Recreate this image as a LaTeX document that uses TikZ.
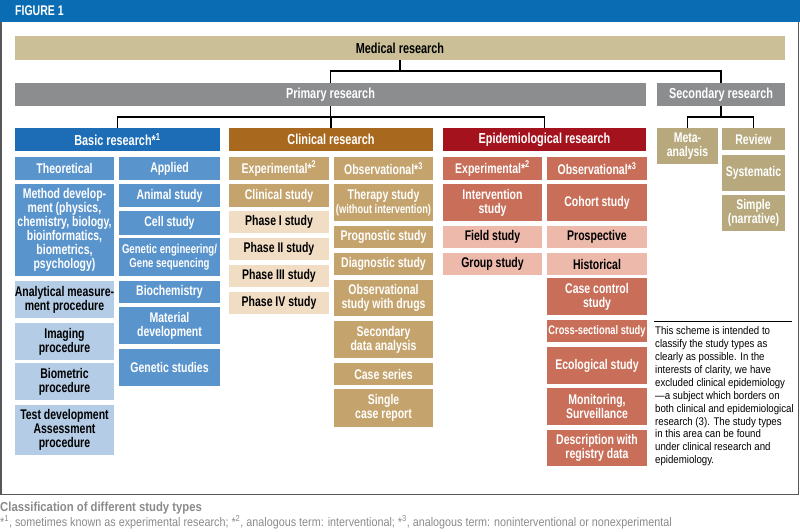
\documentclass[tikz,border=0pt]{standalone}
\usepackage{fontspec}
\setmainfont{Liberation Sans}[FakeStretch=0.75]
\newfontfamily\capfont{Liberation Sans}[FakeStretch=0.87]
\definecolor{cHead}{HTML}{0A6DB3}
\definecolor{cMed}{HTML}{CBBF98}
\definecolor{cGray}{HTML}{8B8D8F}
\definecolor{cBlueD}{HTML}{1C6DB5}
\definecolor{cBlueM}{HTML}{5A94CC}
\definecolor{cBlueL}{HTML}{B4CCE6}
\definecolor{cBrownD}{HTML}{A8691F}
\definecolor{cBrownM}{HTML}{C4A36D}
\definecolor{cBrownL}{HTML}{F0DDC4}
\definecolor{cRedD}{HTML}{A4131D}
\definecolor{cRedM}{HTML}{C86E59}
\definecolor{cRedL}{HTML}{ECB9AB}
\definecolor{cSec}{HTML}{B7A97D}
\definecolor{cFrame}{HTML}{58585A}
\definecolor{cCap}{HTML}{8A8A8A}
\newcommand\bx[7]{\node[#2, minimum width={(#5)-(#3)}, minimum height={(#6)-(#4)}] (#1) at ({((#3)+(#5))/2},{-((#4)+(#6))/2}) {#7};}
\tikzset{
  box/.style={inner sep=0pt, align=center, text=white, font=\bfseries\fontsize{14}{14}\selectfont},
  hdr/.style={box, font=\bfseries\fontsize{14.5}{15}\selectfont},
  smallbox/.style={box, font=\bfseries\fontsize{12.8}{14}\selectfont},
  tinybox/.style={box, font=\bfseries\fontsize{12.4}{14}\selectfont},
  blueM/.style={fill=cBlueM},
  blueL/.style={fill=cBlueL, text=black},
  brownM/.style={fill=cBrownM},
  brownL/.style={fill=cBrownL, text=black},
  redM/.style={fill=cRedM},
  redL/.style={fill=cRedL, text=black},
  secbox/.style={fill=cSec},
  conn/.style={draw=black, line width=1.3pt},
}
\begin{document}
\begin{tikzpicture}[x=1pt,y=1pt]
\useasboundingbox (0,0) rectangle (800,-531);
% header and frame
\fill[cHead] (0,0) rectangle (800,-22);
\node[anchor=base west, inner sep=0pt, text=white, font=\bfseries\fontsize{14}{14}\selectfont] (fig) at (15,-15.5) {FIGURE 1};
\draw[cFrame, line width=1.4pt] (0.9,-22) -- (0.9,-494.5) -- (798.6,-494.5) -- (798.6,-22);
% top levels
\bx{med}{hdr,fill=cMed,text=black}{15}{36}{785}{60}{Medical research}
\bx{prim}{hdr,fill=cGray}{15}{83}{646}{106}{Primary research}
\bx{sec}{hdr,fill=cGray}{657}{83}{785}{106}{Secondary research}
\bx{basic}{hdr,fill=cBlueD}{15}{128}{220}{151}{Basic research*\textsuperscript{1}}
\bx{clin}{hdr,fill=cBrownD}{229}{128}{433}{151}{Clinical research}
\bx{epi}{hdr,fill=cRedD}{443}{128}{646}{151}{Epidemiological research}
% secondary
\bx{meta}{box,secbox}{657}{128}{718}{164}{Meta-\\analysis}
\bx{review}{box,secbox}{722}{128}{785}{150}{Review}
\bx{syst}{box,secbox}{722}{155}{785}{191}{Systematic}
\bx{simple}{box,secbox}{722}{195}{785}{231}{Simple\\(narrative)}
% basic research
\bx{theo}{box,blueM}{15}{157}{114}{180}{Theoretical}
\bx{appl}{box,blueM}{119}{157}{220}{180}{Applied}
\bx{meth}{box,blueM}{15}{184}{114}{276}{Method develop-\\ment (physics,\\chemistry, biology,\\bioinformatics,\\biometrics,\\psychology)}
\bx{anal}{box,blueL}{15}{281}{114}{318}{Analytical measure-\\ment procedure}
\bx{imag}{box,blueL}{15}{323}{114}{360}{Imaging\\procedure}
\bx{biom}{box,blueL}{15}{363}{114}{400}{Biometric\\procedure}
\bx{test}{box,blueL}{15}{405}{114}{455}{Test development\\Assessment\\procedure}
\bx{anim}{box,blueM}{119}{184}{220}{207}{Animal study}
\bx{cell}{box,blueM}{119}{211}{220}{235}{Cell study}
\bx{gene}{smallbox,blueM}{119}{238}{220}{276}{Genetic engineering/\\Gene sequencing}
\bx{bioc}{box,blueM}{119}{281}{220}{303}{Biochemistry}
\bx{mate}{box,blueM}{119}{307}{220}{344}{Material\\development}
\bx{gens}{box,blueM}{119}{349}{220}{386}{Genetic studies}
% clinical research
\bx{cexp}{box,brownM}{229}{157}{329}{180}{Experimental*\textsuperscript{2}}
\bx{cobs}{box,brownM}{334}{157}{433}{180}{Observational*\textsuperscript{3}}
\bx{cstu}{box,brownM}{229}{184}{329}{207}{Clinical study}
\bx{ph1}{box,brownL}{229}{211}{329}{233}{Phase I study}
\bx{ph2}{box,brownL}{229}{238}{329}{260}{Phase II study}
\bx{ph3}{box,brownL}{229}{265}{329}{287}{Phase III study}
\bx{ph4}{box,brownL}{229}{292}{329}{314}{Phase IV study}
\bx{ther}{box,brownM}{334}{184}{433}{221}{Therapy study\\{\fontsize{12.4}{14}\selectfont(without intervention)}}
\bx{prog}{box,brownM}{334}{226}{433}{248}{Prognostic study}
\bx{diag}{box,brownM}{334}{253}{433}{275}{Diagnostic study}
\bx{obsd}{box,brownM}{334}{280}{433}{316}{Observational\\study with drugs}
\bx{secd}{box,brownM}{334}{321}{433}{358}{Secondary\\data analysis}
\bx{cser}{box,brownM}{334}{363}{433}{385}{Case series}
\bx{sing}{box,brownM}{334}{389}{433}{427}{Single\\case report}
% epidemiological research
\bx{eexp}{box,redM}{443}{157}{542}{180}{Experimental*\textsuperscript{2}}
\bx{eobs}{box,redM}{547}{157}{647}{180}{Observational*\textsuperscript{3}}
\bx{intv}{box,redM}{443}{184}{542}{221}{Intervention\\study}
\bx{fiel}{box,redL}{443}{226}{542}{248}{Field study}
\bx{grou}{box,redL}{443}{253}{542}{275}{Group study}
\bx{coho}{box,redM}{547}{184}{647}{221}{Cohort study}
\bx{pros}{box,redL}{547}{226}{647}{248}{Prospective}
\bx{hist}{box,redL}{547}{253}{647}{275}{Historical}
\bx{ccs}{box,redM}{547}{278}{647}{315}{Case control\\study}
\bx{cross}{tinybox,redM}{547}{320}{647}{342}{Cross-sectional study}
\bx{ecol}{box,redM}{547}{347}{647}{384}{Ecological study}
\bx{moni}{box,redM}{547}{388}{647}{425}{Monitoring,\\Surveillance}
\bx{desc}{box,redM}{547}{430}{647}{466}{Description with\\registry data}
% connectors
\coordinate (j1) at (med.south |- 0,-71);
\coordinate (j2) at (prim.south |- 0,-117);
\coordinate (j3) at (sec.south |- 0,-117);
\draw[conn] (med.south) -- (j1);
\draw[conn] (prim.north) |- (j1) -| (sec.north);
\draw[conn] (prim.south) -- (j2);
\draw[conn] (basic.north) |- (j2) -| (epi.north);
\draw[conn] (clin.north) -- (clin.north |- j2);
\draw[conn] (sec.south) -- (j3);
\draw[conn] (meta.north) |- (j3) -| (review.north);
% note
\draw[black, line width=0.8pt] (654,-321) -- (792,-321);
\node[anchor=north west, inner sep=0pt, align=left, font=\capfont\fontsize{11.1}{12.9}\selectfont] (note) at (655,-326.5) {This scheme is intended to\\classify the study types as\\clearly as possible. In the\\interests of clarity, we have\\excluded clinical epidemiology\\—a subject which borders on\\both clinical and epidemiological\\research (3). The study types\\in this area can be found\\under clinical research and\\epidemiology.};
% caption
\node[anchor=base west, inner sep=0pt, text=cCap, font=\capfont\bfseries\fontsize{13}{15}\selectfont] (cap) at (0,-511) {Classification of different study types};
\node[anchor=base west, inner sep=0pt, text=cCap, font=\capfont\fontsize{12.4}{13}\selectfont] (foot) at (0,-526) {*\textsuperscript{1}, sometimes known as experimental research; *\textsuperscript{2}, analogous term: interventional; *\textsuperscript{3}, analogous term: noninterventional or nonexperimental};
\end{tikzpicture}
\end{document}
